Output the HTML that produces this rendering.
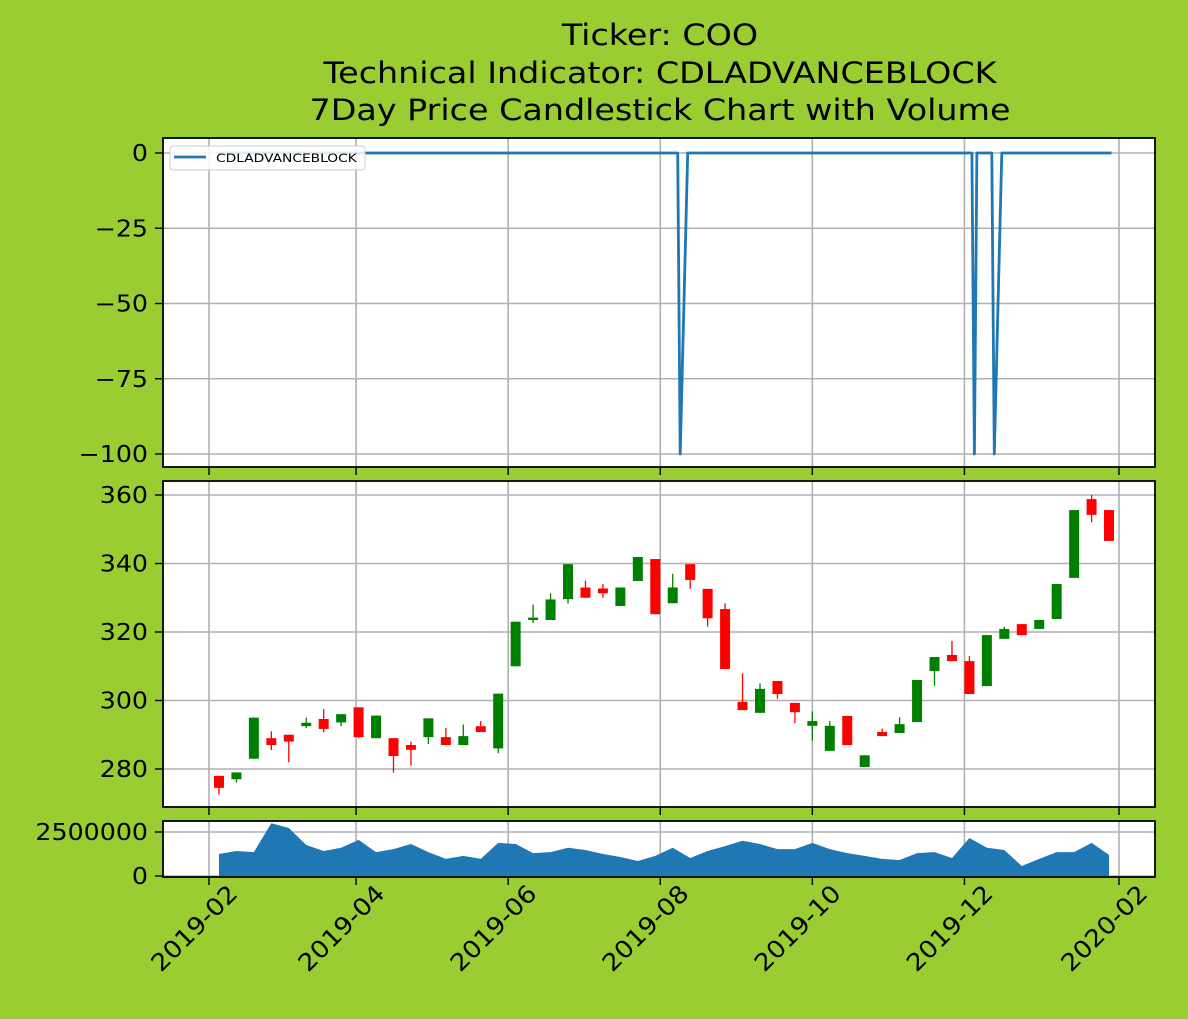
<!DOCTYPE html>
<html><head><meta charset="utf-8">
<style>
html,body{margin:0;padding:0;background:#9acd32;}
svg{display:block;font-family:"DejaVu Sans","Liberation Sans",sans-serif;}
</style></head>
<body>
<svg id="chart" width="1188" height="1019" viewBox="0 0 1188 1019">
<rect width="1188" height="1019" fill="#9acd32"/>
<g font-size="29" text-anchor="middle" fill="#000">
<text transform="translate(660,45) scale(1.15,1)">Ticker: COO</text>
<text transform="translate(660,83) scale(1.15,1)">Technical Indicator: CDLADVANCEBLOCK</text>
<text transform="translate(660,120) scale(1.15,1)">7Day Price Candlestick Chart with Volume</text>
</g>
<g id="layer"></g>
</svg>
<script>
// ---- data ----
const candleStart = '2019-02-05';
const candleOpen  = [278,277,283,289,290,292.5,294.6,293.6,298,289,289,287,289.3,289.3,287,292.5,286,310,323.5,323.5,329.6,333,332.7,327.6,334.9,341.3,328.4,339.8,332.6,326.7,299.6,296.4,305.7,299.3,292.6,285.3,295.5,280.6,290.8,290.5,293.7,308.6,313.3,311.5,304.2,318,322.3,320.9,323.8,335.8,358.8,355.6];
const candleClose = [274.5,279,295,287,288,293.5,291.7,296,289.3,295.6,283.8,285.6,294.8,287,289.6,290.8,302,323,324.2,329.5,339.8,330,331.3,333,341.9,325.2,333,335.2,324,309.2,297.2,303.4,301.9,296.6,294,292.6,287,284,289.6,293.1,306,312.7,311.5,301.9,319.1,320.9,319.1,323.5,334,355.6,354.2,346.6];
const candleHigh  = [278,279,295,291,290,295,297.5,296,298,295.6,289,288,294.8,292,293,294,302,323,328,331.3,339.8,335,334,333,341.9,341.3,337,339.8,332.6,328.4,307.9,305,305.7,299.3,296.8,294,295.5,284,291.8,295.1,306,312.7,317.4,313,319.1,321.5,322.3,323.5,334,355.6,360,355.6];
const candleLow   = [272.5,276,283,285.5,282,292,290.7,292.5,289,289,279,281,287.3,287,287,290.8,284.6,310,322.6,323.5,328.3,330,330,327.6,334.9,325.2,328.4,332.6,321.6,309.2,297.2,296.4,300.5,293.4,288.3,285.3,287,280.6,289.6,290.5,293.7,304.3,311.5,301.9,304.2,318,319.1,320.9,323.8,335.8,352,346.6];
const volumeM     = [1.25,1.42,1.36,3.0,2.73,1.76,1.42,1.6,2.05,1.36,1.53,1.82,1.36,0.97,1.14,0.97,1.88,1.82,1.3,1.36,1.6,1.48,1.25,1.08,0.85,1.14,1.6,1.02,1.42,1.7,2.0,1.82,1.53,1.53,1.88,1.53,1.3,1.14,0.97,0.91,1.3,1.36,1.02,2.16,1.6,1.48,0.57,0.97,1.36,1.36,1.88,1.2];
const indStart = '2019-02-05';
const indEnd = '2020-01-29';
const signalDates = ['2019-08-09','2019-12-05','2019-12-13'];
const signalValues = [-100,-100,-100];
const xTickLabels = ['2019-02','2019-04','2019-06','2019-08','2019-10','2019-12','2020-02'];
const topTicks = [0,-25,-50,-75,-100];
const midTicks = [280,300,320,340,360];
const volTicks = [0,2500000];

// ---- scales ----
const NS='http://www.w3.org/2000/svg';
const L=163,R=1155;
const day=86400000;
const t0=Date.UTC(2019,1,1), t1=Date.UTC(2020,1,1);
const px0=209, px1=1119;
function xs(d){const t=(typeof d==='string')?Date.parse(d+'T00:00:00Z'):d;return px0+(t-t0)/(t1-t0)*(px1-px0);}
const topP={y0:138,y1:467}, midP={y0:481,y1:807}, volP={y0:821,y1:877};
function yTop(v){return 153+(0-v)*(454-153)/100;}
function yMid(v){return 495+(360-v)*(769-495)/80;}
function yVol(v){return 876-v*(876-832)/2500000;}
const layer=document.getElementById('layer');
function el(tag,attrs,parent){const e=document.createElementNS(NS,tag);for(const k in attrs)e.setAttribute(k,attrs[k]);(parent||layer).appendChild(e);return e;}

[[topP,'indicator-panel'],[midP,'price-panel'],[volP,'volume-panel']].forEach(([p,n])=>{
  const r=el('rect',{x:L,y:p.y0,width:R-L,height:p.y1-p.y0,fill:'#fff'});
  
  
});
function grid(p,yf,ticks,name){
  const g=el('g',{stroke:'#b0b0b0','stroke-width':1.6});
  
  
  xTickLabels.forEach(lb=>{const x=xs(lb+'-01');el('line',{x1:x,x2:x,y1:p.y0,y2:p.y1},g);});
  ticks.forEach(v=>{const y=yf(v);el('line',{x1:L,x2:R,y1:y,y2:y},g);});
}
grid(topP,yTop,topTicks,'indicator-grid');
grid(midP,yMid,midTicks,'price-grid');
grid(volP,yVol,volTicks,'volume-grid');

const sig={};signalDates.forEach((d,i)=>sig[d]=signalValues[i]);
let pts=[];
for(let t=Date.parse(indStart+'T00:00:00Z');t<=Date.parse(indEnd+'T00:00:00Z');t+=day){
  const dw=new Date(t).getUTCDay(); if(dw===0||dw===6)continue;
  const ds=new Date(t).toISOString().slice(0,10);
  const v=(ds in sig)?sig[ds]:0;
  pts.push(xs(t).toFixed(1)+','+yTop(v).toFixed(1));
}
const ln=el('polyline',{points:pts.join(' '),fill:'none',stroke:'#1f77b4','stroke-width':2.8,'stroke-linejoin':'round'});



const lg=el('g',{});


el('rect',{x:170,y:146,width:195,height:24,rx:3,fill:'#fff','fill-opacity':0.85,stroke:'#ccc'},lg);
el('line',{x1:174,x2:206,y1:157,y2:157,stroke:'#1f77b4','stroke-width':2.8},lg);
const lt=el('text',{'font-size':11.5,fill:'#000',transform:'translate(216,162) scale(1.2,1)'},lg);lt.textContent='CDLADVANCEBLOCK';

const c0=Date.parse(candleStart+'T00:00:00Z');
const cw=10;
candleOpen.forEach((o,i)=>{
  const c=candleClose[i],h=candleHigh[i],lo=candleLow[i];
  const x=xs(c0+i*7*day);
  const col=c>=o?'#008000':'#ff0000';
  const g=el('g',{});
  
  
  el('line',{x1:x,x2:x,y1:yMid(h),y2:yMid(lo),stroke:col,'stroke-width':1.3},g);
  const yt=yMid(Math.max(o,c)),yb=yMid(Math.min(o,c));
  el('rect',{x:x-cw/2,y:yt,width:cw,height:Math.max(1.5,yb-yt),fill:col},g);
});

let vp=[xs(c0).toFixed(1)+','+yVol(0)];
volumeM.forEach((v,i)=>vp.push(xs(c0+i*7*day).toFixed(1)+','+yVol(v*1e6).toFixed(1)));
vp.push(xs(c0+(volumeM.length-1)*7*day).toFixed(1)+','+yVol(0));
const va=el('polygon',{points:vp.join(' '),fill:'#1f77b4'});



function frame(p,yf,ticks,fmt,name){
  const g=el('g',{});
  
  
  el('rect',{x:L,y:p.y0,width:R-L,height:p.y1-p.y0,fill:'none',stroke:'#000','stroke-width':1.8},g);
  ticks.forEach(v=>{const y=yf(v);
    el('line',{x1:L-8,x2:L,y1:y,y2:y,stroke:'#000','stroke-width':1.4},g);
    const t=el('text',{'font-size':23,'text-anchor':'end',fill:'#000',transform:`translate(${L-15},${y+8}) scale(1.1,1)`},g);
    t.textContent=fmt(v);
  });
  xTickLabels.forEach(lb=>{const x=xs(lb+'-01');el('line',{x1:x,x2:x,y1:p.y1,y2:p.y1+8,stroke:'#000','stroke-width':1.4},g);});
}
frame(topP,yTop,topTicks,v=>v<0?'\u2212'+(-v):String(v),'indicator');
frame(midP,yMid,midTicks,v=>String(v),'price');
frame(volP,yVol,volTicks,v=>String(v),'volume');
xTickLabels.forEach(lb=>{
  const x=xs(lb+'-01');
  const t=el('text',{'font-size':24,'text-anchor':'end',fill:'#000',transform:`translate(${x+30},${volP.y1+18}) rotate(-45) scale(1.1,1)`});
  
  
  t.textContent=lb;
});
</script>
</body></html>
